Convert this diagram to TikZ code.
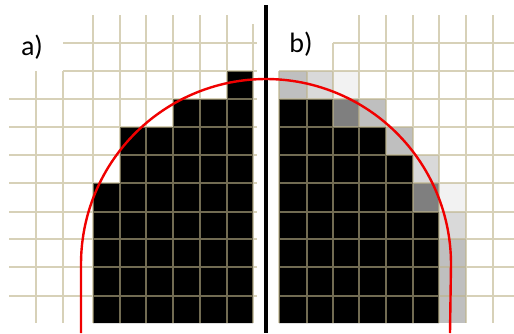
\documentclass[tikz,border=0pt]{standalone}
\usepackage{fontspec}
\setmainfont{Carlito}
\definecolor{gridc}{RGB}{189,179,138}
\definecolor{gA}{RGB}{191,191,191}
\definecolor{gB}{RGB}{217,217,217}
\definecolor{gC}{RGB}{242,242,242}
\definecolor{gD}{RGB}{127,127,127}
\definecolor{redc}{RGB}{240,0,0}
\tikzset{
  gridline/.style={draw=gridc, line width=1.7pt, draw opacity=0.6},
  lbl/.style={font=\fontsize{28}{30}\selectfont, inner sep=0pt},
  curve/.style={draw=redc, line width=2.4pt},
  divider/.style={draw=black, line width=3.5pt}
}
\begin{document}
\begin{tikzpicture}[x=1pt,y=-1pt]
\useasboundingbox[fill=white] (0,0) rectangle (514,333);

% ---------- left panel cells ----------
\fill[black] (227,71) -- (253,71) -- (253,323) -- (93,323) -- (93,183) -- (120,183)
  -- (120,127) -- (173,127) -- (173,99) -- (227,99) -- cycle;

% ---------- right panel cells ----------
\fill[black] (279,99) -- (333,99) -- (333,127) -- (386,127) -- (386,155) -- (413,155)
  -- (413,212) -- (439,212) -- (439,323) -- (279,323) -- cycle;
\fill[gA] (279,71) rectangle (307,99);
\fill[gB] (307,71) rectangle (333,99);
\fill[gC] (333,71) rectangle (359,99);
\fill[gD] (333,99) rectangle (359,127);
\fill[gA] (359,99) rectangle (386,127);
\fill[gA] (386,127) rectangle (413,155);
\fill[gB] (413,155) rectangle (439,183);
\fill[gD] (413,183) rectangle (439,212);
\fill[gC] (439,183) rectangle (466,212);
\fill[gB] (439,212) rectangle (466,239);
\fill[gA] (439,239) rectangle (466,323);

% ---------- grids ----------
\path[gridline]
  % left verticals
  (36,71) -- (36,323)  (63,71) -- (63,323)
  (93,15) -- (93,323)  (120,15) -- (120,323)  (146,15) -- (146,323)
  (173,15) -- (173,323)  (200,15) -- (200,323)  (227,15) -- (227,323)
  (253,24) -- (253,323)
  % left horizontals
  (63,43) -- (257,43)  (63,71) -- (257,71)
  (9,99) -- (257,99)  (9,127) -- (257,127)  (9,155) -- (257,155)
  (9,183) -- (257,183)  (9,212) -- (257,212)  (9,239) -- (257,239)
  (9,267) -- (257,267)  (9,296) -- (257,296)
  % right verticals
  (279,71) -- (279,323)  (307,71) -- (307,323)  (333,43) -- (333,323)
  (359,15) -- (359,323)  (386,15) -- (386,323)  (413,15) -- (413,323)
  (439,15) -- (439,323)  (466,15) -- (466,323)  (493,15) -- (493,323)
  % right horizontals
  (333,43) -- (514,43)  (279,71) -- (514,71)
  (279,99) -- (514,99)  (279,127) -- (514,127)  (279,155) -- (514,155)
  (279,183) -- (514,183)  (279,212) -- (514,212)  (279,239) -- (514,239)
  (279,267) -- (514,267)  (279,296) -- (514,296);

% ---------- divider ----------
\coordinate (dtop) at (266,5);
\coordinate (dbot) at (266,333);
\draw[divider] (dtop) -- (dbot);

% ---------- red curve ----------
\coordinate (cl) at (81,333);
\coordinate (cr) at (450,333);
\draw[curve, line join=round] (cl) -- (81,264)
  -- plot[domain=180:0, samples=120] ({266+185*cos(\x)},{264-185*sin(\x)})
  -- (cr);

% ---------- labels ----------
\node[lbl] (la) at (32,47) {a)};
\node[lbl] (lb) at (301,44) {b)};
\end{tikzpicture}
\end{document}
